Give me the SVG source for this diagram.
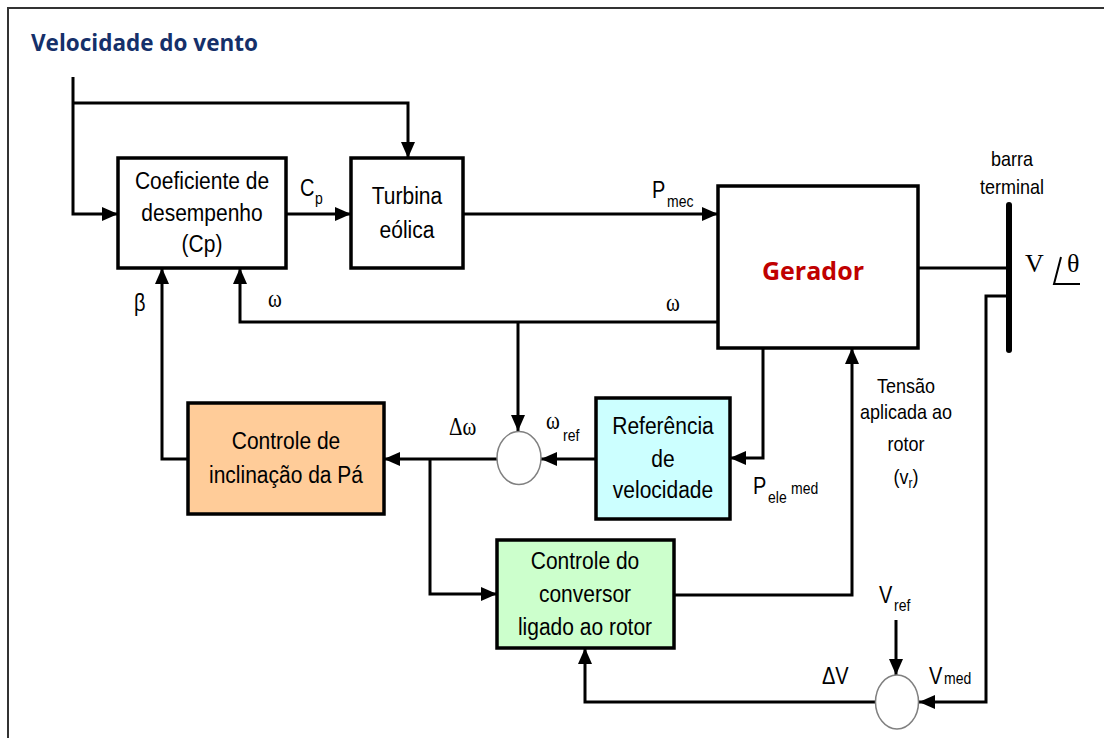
<svg xmlns="http://www.w3.org/2000/svg" width="1104" height="738" viewBox="0 0 1104 738">
<defs>
<marker id="ah" markerUnits="userSpaceOnUse" markerWidth="16" markerHeight="14" refX="16" refY="7" orient="auto">
<path d="M0,0 L16,7 L0,14 Z" fill="#000"/>
</marker>
<style>
.box{stroke:#000;stroke-width:3.5;}
.ln{fill:none;stroke:#000;stroke-width:3;}
.t,.lb,.sb,.sm,.gr{transform-box:fill-box;transform-origin:50% 50%;transform:scaleY(1.15);}
.t{font-family:"Liberation Sans",Arial,sans-serif;font-size:21px;fill:#000;text-anchor:middle;}
.lb{font-family:"Liberation Sans",Arial,sans-serif;font-size:20px;fill:#000;}
.sb{font-family:"Liberation Sans",Arial,sans-serif;font-size:14px;fill:#000;}
.sm{font-family:"Liberation Sans",Arial,sans-serif;font-size:18px;fill:#000;text-anchor:middle;}
.gr{font-family:"Liberation Serif","Times New Roman",serif;font-size:21px;fill:#000;}
.sum{fill:#fff;stroke:#808080;stroke-width:1.5;}
</style>
</defs>
<rect x="0" y="0" width="1104" height="738" fill="#fff"/>
<path d="M8,738 L8,8 L1104,8" fill="none" stroke="#333" stroke-width="2"/>
<text x="31" y="51" font-family="'Open Sans','Liberation Sans',sans-serif" font-weight="bold" font-size="22.5" fill="#15306A">Velocidade do vento</text>

<g id="connectors">
<path class="ln" d="M73,77 L73,214 L118,214" marker-end="url(#ah)"/>
<path class="ln" d="M73,103 L408,103 L408,158" marker-end="url(#ah)"/>
<path class="ln" d="M286,214 L351,214" marker-end="url(#ah)"/>
<path class="ln" d="M463,214 L718,214" marker-end="url(#ah)"/>
<path class="ln" d="M918,268 L1009,268"/>
<path class="ln" d="M718,322 L240,322 L240,268" marker-end="url(#ah)"/>
<path class="ln" d="M518,322 L518,431" marker-end="url(#ah)"/>
<path class="ln" d="M188,459 L162,459 L162,268" marker-end="url(#ah)"/>
<path class="ln" d="M497,459 L384,459" marker-end="url(#ah)"/>
<path class="ln" d="M430,459 L430,594 L497,594" marker-end="url(#ah)"/>
<path class="ln" d="M596,459 L541,459" marker-end="url(#ah)"/>
<path class="ln" d="M763,348 L763,458 L730,458" marker-end="url(#ah)"/>
<path class="ln" d="M674,595 L852,595 L852,348" marker-end="url(#ah)"/>
<path class="ln" d="M1009,296 L986,296 L986,702 L919,702" marker-end="url(#ah)"/>
<path class="ln" d="M896,620 L896,675" marker-end="url(#ah)"/>
<path class="ln" stroke-width="3.5" d="M876,702 L585,702 L585,648" marker-end="url(#ah)"/>
</g>

<g id="coef">
<rect class="box" x="118" y="158" width="168" height="110" fill="#fff"/>
<text class="t" x="202" y="188">Coeficiente de</text>
<text class="t" x="202" y="220">desempenho</text>
<text class="t" x="202" y="251">(Cp)</text>
</g>
<g id="turbina">
<rect class="box" x="351" y="158" width="112" height="110" fill="#fff"/>
<text class="t" x="407" y="203">Turbina</text>
<text class="t" x="407" y="237">eólica</text>
</g>
<g id="gerador">
<rect class="box" x="718" y="186" width="200" height="162" fill="#fff"/>
<text x="813" y="280" font-family="'Open Sans','Liberation Sans',sans-serif" font-weight="bold" font-size="25" fill="#C00000" text-anchor="middle">Gerador</text>
</g>
<g id="barra">
<line x1="1009" y1="205" x2="1009" y2="350" stroke="#000" stroke-width="6" stroke-linecap="round"/>
<text class="sm" x="1012" y="165">barra</text>
<text class="sm" x="1012" y="193">terminal</text>
<text x="1025" y="272" font-family="'Liberation Serif','Times New Roman',serif" font-size="26" fill="#000">V</text>
<path d="M1061,257 L1054,284 L1080,284" fill="none" stroke="#000" stroke-width="2"/>
<text x="1067" y="272" font-family="'Liberation Serif','Times New Roman',serif" font-size="26" fill="#000">θ</text>
</g>
<g id="pitch">
<rect class="box" x="188" y="403" width="196" height="111" fill="#FFCC99"/>
<text class="t" x="286" y="448">Controle de</text>
<text class="t" x="286" y="482">inclinação da Pá</text>
</g>
<g id="referencia">
<rect class="box" x="596" y="398" width="134" height="121" fill="#CCFFFF"/>
<text class="t" x="663" y="433">Referência</text>
<text class="t" x="663" y="466">de</text>
<text class="t" x="663" y="497">velocidade</text>
</g>
<g id="conversor">
<rect class="box" x="497" y="540" width="177" height="108" fill="#CCFFCC"/>
<text class="t" x="585" y="568">Controle do</text>
<text class="t" x="585" y="601">conversor</text>
<text class="t" x="585" y="634">ligado ao rotor</text>
</g>
<g id="soma1">
<ellipse class="sum" cx="519" cy="458" rx="22" ry="26.5"/>
</g>
<g id="soma2">
<ellipse class="sum" cx="897" cy="702" rx="21.5" ry="27"/>
</g>

<g id="labels">
<text class="lb" x="300" y="195">C</text><text class="sb" x="315" y="203">p</text>
<text class="lb" x="652" y="197">P</text><text class="sb" x="667" y="206">mec</text>
<text class="gr" x="666" y="310">ω</text>
<text class="gr" x="268" y="306">ω</text>
<text class="lb" x="134" y="310">β</text>
<text class="gr" x="449" y="434">Δω</text>
<text class="gr" x="546" y="428">ω</text><text class="sb" x="563" y="440">ref</text>
<text class="lb" x="753" y="493">P</text><text class="sb" x="768" y="502">ele</text><text class="sb" x="791" y="493">med</text>
<text class="sm" x="906" y="392">Tensão</text>
<text class="sm" x="906" y="418">aplicada ao</text>
<text class="sm" x="906" y="450">rotor</text>
<text class="sm" x="906" y="483">(v<tspan font-size="12" dy="4">r</tspan><tspan dy="-4">)</tspan></text>
<text class="lb" x="879" y="602">V</text><text class="sb" x="894" y="610">ref</text>
<text class="lb" x="822" y="683">ΔV</text>
<text class="lb" x="929" y="683">V</text><text class="sb" x="944" y="683">med</text>
</g>
</svg>
